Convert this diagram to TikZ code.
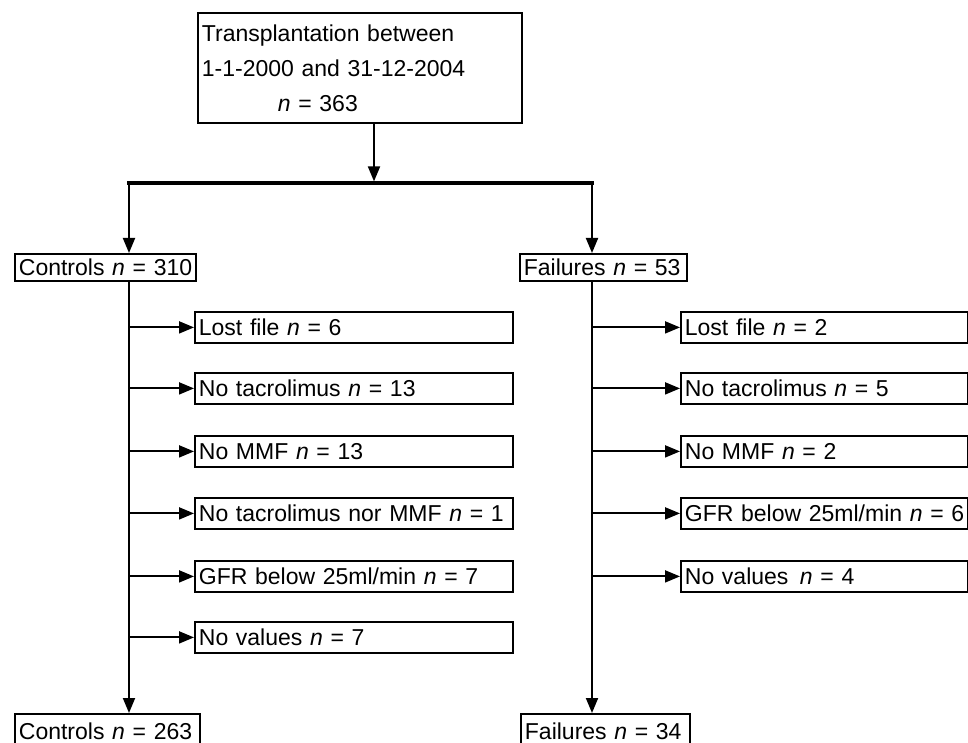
\documentclass[tikz,border=0pt]{standalone}
\usepackage{fontspec}
\setmainfont{Liberation Sans}
\usetikzlibrary{arrows.meta,calc}
\begin{document}
\begin{tikzpicture}[x=1pt,y=-1pt,
  box/.style={draw,line width=1.8pt,anchor=north west,inner xsep=4pt,inner ysep=0pt,
    align=left,font=\fontsize{23}{27}\selectfont},
  arr/.style={line width=1.9pt,-{Triangle[length=15pt,width=12pt]}},
  bar/.style={line width=3.2pt}]
\useasboundingbox (0,0) rectangle (968,743);
\coordinate (L) at (129,0);
\coordinate (R) at (592,0);
\coordinate (T) at (374,0);
\coordinate (B) at (0,183);

\node[box,text width=316,minimum height=110,font=\fontsize{23}{35}\selectfont] (top) at (197,12)
  {Transplantation between\\1-1-2000 and 31-12-2004\\\hspace*{76pt}\textit{n} = 363};

\node[box,text width=173,minimum height=27] (c1) at (14,253) {\mbox{Controls \textit{n} = 310}};
\node[box,text width=159,minimum height=27] (f1) at (519,253) {\mbox{Failures \textit{n} = 53}};

\node[box,text width=310,minimum height=31] (l1) at (194,311) {\mbox{Lost file \textit{n} = 6}};
\node[box,text width=310,minimum height=31] (l2) at (194,372) {\mbox{No tacrolimus \textit{n} = 13}};
\node[box,text width=310,minimum height=31] (l3) at (194,435) {\mbox{No MMF \textit{n} = 13}};
\node[box,text width=310,minimum height=31] (l4) at (194,497) {\mbox{No tacrolimus nor MMF \textit{n} = 1}};
\node[box,text width=310,minimum height=31] (l5) at (194,560) {\mbox{GFR below 25ml/min \textit{n} = 7}};
\node[box,text width=310,minimum height=31] (l6) at (194,621) {\mbox{No values \textit{n} = 7}};

\node[box,text width=279,minimum height=31] (r1) at (680,311) {\mbox{Lost file \textit{n} = 2}};
\node[box,text width=279,minimum height=31] (r2) at (680,372) {\mbox{No tacrolimus \textit{n} = 5}};
\node[box,text width=279,minimum height=31] (r3) at (680,435) {\mbox{No MMF \textit{n} = 2}};
\node[box,text width=279,minimum height=31] (r4) at (680,497) {\mbox{GFR below 25ml/min \textit{n} = 6}};
\node[box,text width=279,minimum height=31] (r5) at (680,560) {\mbox{No values\, \textit{n} = 4}};

\node[box,text width=177,minimum height=34] (c2) at (14,713) {\mbox{Controls \textit{n} = 263}};
\node[box,text width=161,minimum height=34] (f2) at (520,713) {\mbox{Failures \textit{n} = 34}};

\draw[arr] (top.south -| T) -- ($(T |- B)+(0,-1.6)$);
\draw[bar] ($(L |- B)+(-2,0)$) -- ($(R |- B)+(2,0)$);
\draw[arr] ($(L |- B)+(0,1.6)$) -- (c1.north -| L);
\draw[arr] ($(R |- B)+(0,1.6)$) -- (f1.north -| R);

\draw[arr] (c1.south -| L) -- (c2.north -| L);
\draw[arr] (f1.south -| R) -- (f2.north -| R);

\foreach \n in {l1,l2,l3,l4,l5,l6}
  \draw[arr] (\n.west -| L) -- (\n.west);
\foreach \n in {r1,r2,r3,r4,r5}
  \draw[arr] (\n.west -| R) -- (\n.west);
\end{tikzpicture}
\end{document}
